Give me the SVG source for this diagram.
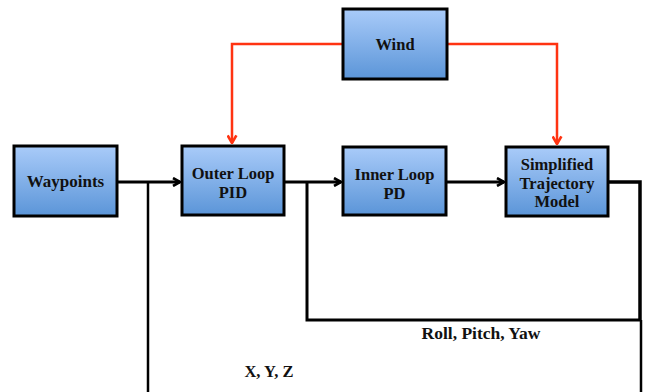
<svg xmlns="http://www.w3.org/2000/svg" width="652" height="392" viewBox="0 0 652 392">
<defs>
<linearGradient id="g" x1="0" y1="0" x2="0" y2="1">
<stop offset="0" stop-color="#a9cbf9"/>
<stop offset="1" stop-color="#5b95d8"/>
</linearGradient>
<marker id="ab" viewBox="0 0 10 10" refX="9" refY="5" markerWidth="10" markerHeight="10" markerUnits="userSpaceOnUse" orient="auto">
<path d="M2,1 L9,5 L2,9" fill="none" stroke="#000" stroke-width="2.6"/>
</marker>
<marker id="ar" viewBox="0 0 10 10" refX="9" refY="5" markerWidth="11" markerHeight="11" markerUnits="userSpaceOnUse" orient="auto">
<path d="M2,1 L9,5 L2,9" fill="none" stroke="#ff3311" stroke-width="2.4"/>
</marker>
</defs>
<style>
.box{fill:url(#g);stroke:#000;stroke-width:3}
.t{font-family:"Liberation Serif","DejaVu Serif",serif;font-weight:bold;font-size:16.5px;fill:#111;text-anchor:middle}
.k{fill:none;stroke:#000;stroke-width:3}
.r{fill:none;stroke:#ff3311;stroke-width:2.5}
</style>
<g id="connectors">
<path class="r" d="M343,44 H232 V143" marker-end="url(#ar)"/>
<path class="r" d="M447,44 H557 V144" marker-end="url(#ar)"/>
<path class="k" d="M117,182 H180" marker-end="url(#ab)"/>
<path class="k" d="M148,182 V392" style="stroke-width:2.5"/>
<path class="k" d="M284,182 H341" marker-end="url(#ab)"/>
<path class="k" d="M307,182 V320 H641"/>
<path class="k" d="M446,182 H504" marker-end="url(#ab)"/>
<path class="k" d="M608,182 H640 V320" style="stroke-width:3.5"/>
<path class="k" d="M641,320 V392" style="stroke-width:2.5"/>
</g>
<g id="wind">
<rect class="box" x="343" y="9" width="104" height="70"/>
<text class="t" x="395" y="50">Wind</text>
</g>
<g id="waypoints">
<rect class="box" x="14" y="146" width="103" height="70"/>
<text class="t" x="65.5" y="187" style="font-size:17px">Waypoints</text>
</g>
<g id="outer">
<rect class="box" x="182" y="146" width="102" height="69"/>
<text class="t" x="233" y="179">Outer Loop</text>
<text class="t" x="233" y="198">PID</text>
</g>
<g id="inner">
<rect class="box" x="343" y="147" width="103" height="68"/>
<text class="t" x="394.5" y="180">Inner Loop</text>
<text class="t" x="394.5" y="199">PD</text>
</g>
<g id="model">
<rect class="box" x="506" y="147" width="102" height="69"/>
<text class="t" x="557" y="170">Simplified</text>
<text class="t" x="557" y="189">Trajectory</text>
<text class="t" x="557" y="207">Model</text>
</g>
<g id="labels">
<text class="t" x="481" y="339" style="font-size:17.5px">Roll, Pitch, Yaw</text>
<text class="t" x="269" y="377">X, Y, Z</text>
</g>
</svg>
